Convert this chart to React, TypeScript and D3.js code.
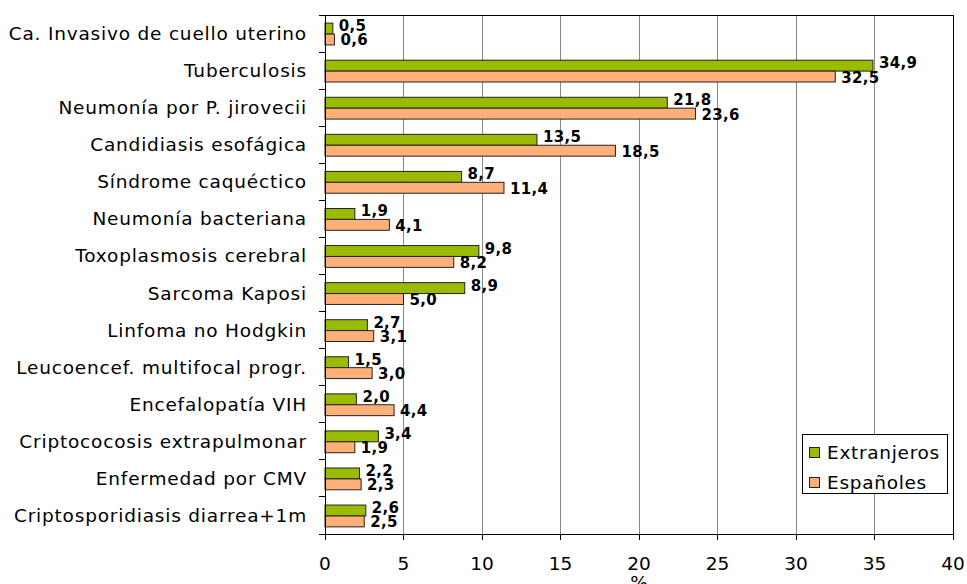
import React from "react";
import * as d3 from "d3";

const categories = [
  "Ca. Invasivo de cuello uterino",
  "Tuberculosis",
  "Neumonía por P. jirovecii",
  "Candidiasis esofágica",
  "Síndrome caquéctico",
  "Neumonía bacteriana",
  "Toxoplasmosis cerebral",
  "Sarcoma Kaposi",
  "Linfoma no Hodgkin",
  "Leucoencef. multifocal progr.",
  "Encefalopatía VIH",
  "Criptococosis extrapulmonar",
  "Enfermedad por CMV",
  "Criptosporidiasis diarrea+1m",
];
const extranjeros = [0.5, 34.9, 21.8, 13.5, 8.7, 1.9, 9.8, 8.9, 2.7, 1.5, 2.0, 3.4, 2.2, 2.6];
const espanoles = [0.6, 32.5, 23.6, 18.5, 11.4, 4.1, 8.2, 5.0, 3.1, 3.0, 4.4, 1.9, 2.3, 2.5];
const xTicks = [0, 5, 10, 15, 20, 25, 30, 35, 40];
const seriesNames = ["Extranjeros", "Españoles"];

const W = 967, H = 584;
const L = 325, R = 953, T = 15, B = 534;
const GREEN = "#99bb00";
const ORANGE = "#ffb078";
const FONT = "'DejaVu Sans', Verdana, sans-serif";

export default function App() {
  const x = d3.scaleLinear().domain([0, 40]).range([L, R]);
  const y = d3.scaleBand<string>().domain(categories).range([T, B]).paddingInner(0).paddingOuter(0);
  const bw = y.bandwidth();
  const groupH = bw / 1.7;
  const barH = groupH / 2;
  const sub = d3.scaleBand<number>().domain([0, 1]).range([0, groupH]);
  const fmt = (v: number) => v.toFixed(1).replace(".", ",");
  const series = [extranjeros, espanoles];
  const colors = [GREEN, ORANGE];
  const labelDy = [-2.5, 1];

  return (
    <svg width={W} height={H} style={{ position: "absolute", left: 0, top: 0, background: "#fff" }} fontFamily={FONT}>
      {/* gridlines */}
      {xTicks.filter((t) => t > 0 && t < 40).map((t) => (
        <line key={"g" + t} x1={x(t)} x2={x(t)} y1={T} y2={B} stroke="#888" strokeWidth={1} shapeRendering="crispEdges" />
      ))}
      {/* bars */}
      {categories.map((c, i) => {
        const y0 = (y(c) as number) + (bw - groupH) / 2 + 0.5;
        return (
          <g key={c}>
            {series.map((s, k) => (
              <rect
                key={k}
                x={x(0)}
                y={y0 + (sub(k) as number)}
                width={x(s[i]) - x(0)}
                height={barH}
                fill={colors[k]}
                stroke="#222"
                strokeWidth={1}
              />
            ))}
          </g>
        );
      })}
      {/* value labels */}
      {categories.map((c, i) => {
        const y0 = (y(c) as number) + (bw - groupH) / 2 + 0.5;
        return (
          <g key={"l" + c}>
            {series.map((s, k) => (
              <text
                key={k}
                x={x(s[i]) + 6}
                y={y0 + (sub(k) as number) + barH / 2 + labelDy[k]}
                dominantBaseline="central"
                fontSize={15}
                fontWeight="bold"
                letterSpacing={0.3}
                fill="#000"
              >
                {fmt(s[i])}
              </text>
            ))}
          </g>
        );
      })}
      {/* frame */}
      <rect x={L} y={T} width={R - L} height={B - T} fill="none" stroke="#000" strokeWidth={1} shapeRendering="crispEdges" />
      {/* x ticks */}
      {xTicks.map((t) => (
        <g key={"t" + t}>
          <line x1={x(t)} x2={x(t)} y1={B} y2={B + 6} stroke="#000" shapeRendering="crispEdges" />
          <text x={x(t)} y={569.5} textAnchor="middle" fontSize={18.5} fill="#000">
            {t}
          </text>
        </g>
      ))}
      {/* y ticks */}
      {d3.range(categories.length + 1).map((i) => (
        <line key={"yt" + i} x1={L - 6} x2={L} y1={T + i * bw} y2={T + i * bw} stroke="#000" shapeRendering="crispEdges" />
      ))}
      {/* category labels */}
      {categories.map((c) => (
        <text key={"c" + c} x={307} y={(y(c) as number) + bw / 2} dominantBaseline="central" textAnchor="end" fontSize={18.5} letterSpacing={0.8} fill="#000">
          {c}
        </text>
      ))}
      {/* axis title */}
      <text x={(L + R) / 2} y={589} textAnchor="middle" fontSize={18.5} fill="#000">%</text>
      {/* legend */}
      <g>
        <rect x={802} y={434} width={145} height={59} fill="#fff" stroke="#000" strokeWidth={1} shapeRendering="crispEdges" />
        {seriesNames.map((n, k) => (
          <g key={n}>
            <rect x={809.5} y={447.5 + k * 30} width={10} height={10} fill={colors[k]} stroke="#222" />
            <text x={827} y={452 + k * 30} dominantBaseline="central" fontSize={18.5} letterSpacing={0.7} fill="#000">
              {n}
            </text>
          </g>
        ))}
      </g>
    </svg>
  );
}
